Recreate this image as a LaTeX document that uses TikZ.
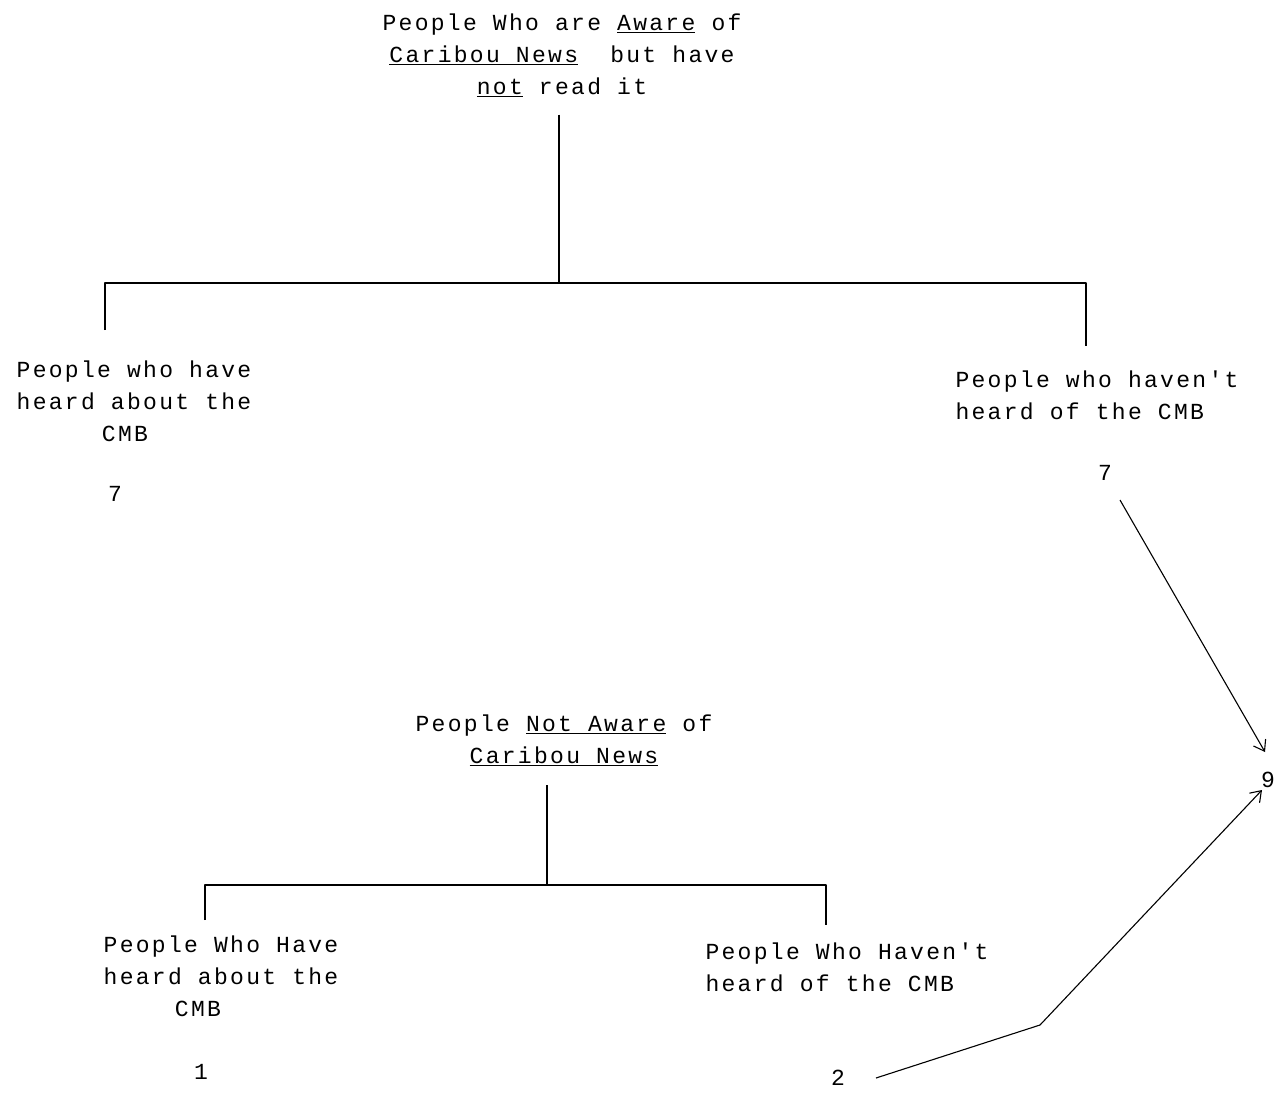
\documentclass[tikz,border=0pt]{standalone}
\usepackage{fontspec}
\setmonofont[LetterSpace=10]{Liberation Mono}
\usetikzlibrary{arrows.meta}
\tikzset{
  lbl/.style={font=\ttfamily\fontsize{23}{32}\selectfont, inner sep=0pt, align=center},
  lblL/.style={lbl, align=left},
  ln/.style={line width=1.1pt, line join=round},
  arr/.style={ln, -{Straight Barb[length=10pt,width=14pt,line width=1.1pt]}}
}
\begin{document}
\begin{tikzpicture}[x=1pt,y=-1pt]
\useasboundingbox (0,0) rectangle (1286,1093);
% top tree
\node[lbl] (top) at (562,55) {People Who are \underline{Aware} of\\\underline{Caribou News}~ but have\\\underline{not} read it};
\node[lbl] (lh) at (134,401) {People who have\\heard about the\\\hbox{CMB\kern18pt}};
\node[lblL] (rh) at (1097,395) {People who haven't\\heard of the CMB};
\node[lbl] (n7a) at (115,494) {7};
\node[lbl] (n7b) at (1105,473) {7};
\node[lbl] (n9) at (1268,780) {9};
\coordinate (j1) at (559,283);
\coordinate (a1) at (105,283);
\coordinate (a2) at (1086,283);
\coordinate (lt) at (105,330);
\coordinate (rt) at (1086,346);
\draw[ln] (top.south -| j1) ++(0,18) -- (j1);
\draw[ln] (lt) -- (a1) -- (a2) -- (rt);
% bottom tree
\node[lbl] (bot) at (564,740) {People \underline{Not Aware} of\\\underline{Caribou News}};
\node[lbl] (lb) at (221,976) {People Who Have\\heard about the\\\hbox{CMB\kern46pt}};
\node[lblL] (rb) at (847,967) {People Who Haven't\\heard of the CMB};
\node[lbl] (n1) at (201,1072) {1};
\node[lbl] (n2) at (838,1078) {2};
\coordinate (j2) at (547,885);
\coordinate (b1) at (205,885);
\coordinate (b2) at (826,885);
\coordinate (bl) at (205,920);
\coordinate (br) at (826,925);
\draw[ln] (547,785) -- (j2);
\draw[ln] (bl) -- (b1) -- (b2) -- (br);
% arrows to 9
\coordinate (s7) at ([shift={(15,27)}]n7b.center);
\coordinate (e9a) at ([shift={(-3,-28)}]n9.center);
\coordinate (s2) at ([shift={(38,0)}]n2.center);
\coordinate (bend) at (1040,1025);
\coordinate (e9b) at ([shift={(-6,10)}]n9.center);
\draw[arr] (s7) -- (e9a);
\draw[arr] (s2) -- (bend) -- (e9b);
\end{tikzpicture}
\end{document}
